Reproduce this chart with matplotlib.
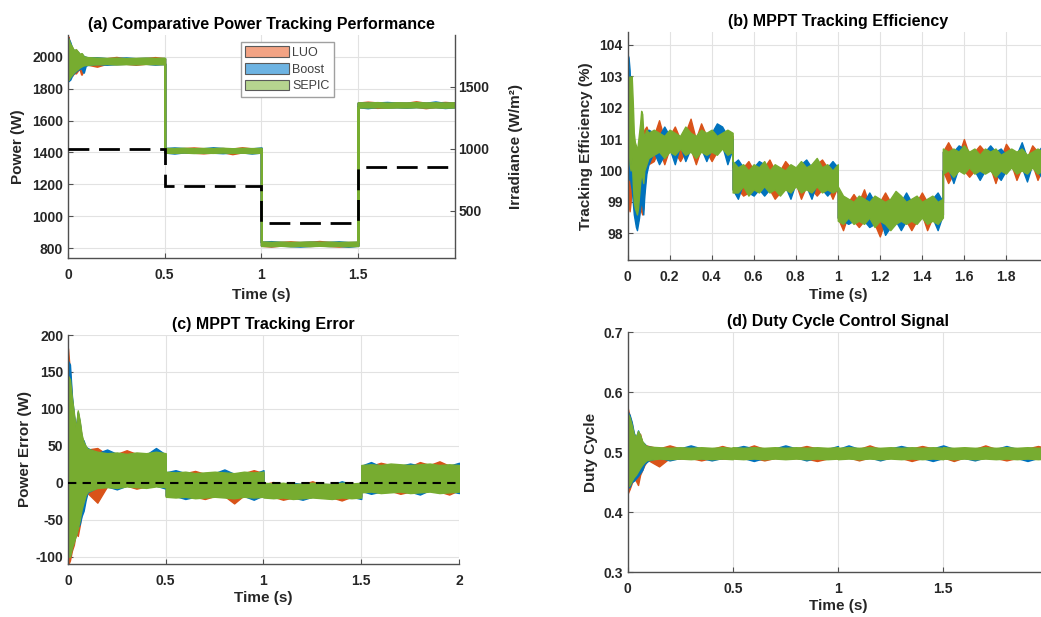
import matplotlib.pyplot as plt
from matplotlib.patches import Patch
from matplotlib.ticker import FuncFormatter

plt.rcParams['font.family'] = ['Liberation Sans', 'DejaVu Sans']

series_names = ['LUO', 'Boost', 'SEPIC']
line_colors = ['#D95319', '#0072BD', '#77AC30']
legend_faces = ['#F2A384', '#6DB3E2', '#B6D48F']

# sample times for panels (a), (c), (d): start-up transient, then one row per irradiance step
t_acd = [0, 0.01, 0.02, 0.03, 0.04, 0.05, 0.06, 0.07, 0.08, 0.09, 0.10,
         0.15, 0.20, 0.25, 0.30, 0.35, 0.40, 0.45, 0.50,
         0.50, 0.55, 0.60, 0.65, 0.70, 0.75, 0.80, 0.85, 0.90, 0.95, 1.00,
         1.00, 1.05, 1.10, 1.15, 1.20, 1.25, 1.30, 1.35, 1.40, 1.45, 1.50,
         1.50, 1.55, 1.60, 1.65, 1.70, 1.75, 1.80, 1.85, 1.90, 1.95, 2.00]

# (a) output power envelopes (W), upper / lower
luo_a_hi = [2125, 2075, 2055, 2030, 2040, 2025, 2010, 2012, 1998, 1995, 1992,
            1989, 1988, 1996, 1987, 1988, 1989, 1995, 1988,
            1424, 1423, 1425, 1429, 1424, 1423, 1425, 1422, 1430, 1423, 1424,
            838, 836, 837, 841, 836, 838, 843, 837, 835, 836, 837,
            1710, 1716, 1711, 1708, 1710, 1709, 1718, 1709, 1710, 1714, 1710]
luo_a_lo = [1850, 1880, 1882, 1900, 1898, 1915, 1930, 1890, 1945, 1950, 1953,
            1940, 1958, 1957, 1958, 1952, 1958, 1957, 1957,
            1403, 1402, 1404, 1401, 1397, 1402, 1404, 1392, 1403, 1401, 1403,
            818, 813, 819, 817, 818, 817, 819, 817, 813, 817, 818,
            1687, 1686, 1682, 1685, 1687, 1686, 1688, 1680, 1687, 1685, 1687]
boost_a_hi = [2115, 2090, 2050, 2040, 2035, 2028, 2012, 2015, 2002, 1997, 1994,
              1994, 1988, 1989, 1993, 1988, 1990, 1988, 1989,
              1425, 1429, 1425, 1422, 1424, 1430, 1425, 1422, 1424, 1423, 1429,
              838, 842, 837, 835, 836, 838, 836, 837, 841, 836, 837,
              1710, 1709, 1711, 1714, 1710, 1709, 1711, 1709, 1717, 1708, 1710]
boost_a_lo = [1848, 1858, 1885, 1900, 1910, 1920, 1925, 1935, 1902, 1945, 1950,
              1957, 1952, 1956, 1958, 1957, 1959, 1953, 1957,
              1402, 1396, 1403, 1401, 1402, 1401, 1398, 1402, 1403, 1396, 1402,
              819, 817, 819, 816, 813, 817, 819, 817, 818, 812, 818,
              1686, 1680, 1688, 1685, 1686, 1683, 1687, 1686, 1687, 1681, 1686]
sepic_a_hi = [2110, 2080, 2060, 2035, 2045, 2030, 2015, 2020, 2000, 1998, 1995,
              1992, 1990, 1991, 1989, 1990, 1992, 1990, 1991,
              1426, 1425, 1427, 1424, 1426, 1425, 1427, 1424, 1426, 1425, 1426,
              840, 838, 839, 837, 838, 840, 838, 839, 837, 838, 839,
              1712, 1711, 1713, 1710, 1712, 1711, 1713, 1711, 1712, 1710, 1712]
sepic_a_lo = [1855, 1875, 1890, 1905, 1915, 1925, 1935, 1942, 1948, 1950, 1952,
              1955, 1957, 1954, 1956, 1955, 1957, 1956, 1955,
              1401, 1400, 1402, 1399, 1401, 1400, 1402, 1400, 1401, 1399, 1401,
              817, 816, 818, 815, 817, 816, 818, 816, 817, 815, 817,
              1685, 1684, 1686, 1683, 1685, 1684, 1686, 1684, 1685, 1683, 1685]

# irradiance profile (W/m^2)
irr_edges = [0, 0.5, 1.0, 1.5, 2.0]
irr_levels = [1000, 700, 400, 850]

# (b) tracking efficiency (%), finer sampling
t_b = [0, 0.005, 0.01, 0.015, 0.02, 0.025, 0.03, 0.035, 0.04, 0.045, 0.05,
       0.055, 0.06, 0.065, 0.07, 0.075, 0.08, 0.09, 0.10,
       0.125, 0.15, 0.175, 0.2, 0.225, 0.25, 0.275, 0.3, 0.325, 0.35, 0.375,
       0.4, 0.425, 0.45, 0.475, 0.5,
       0.5, 0.525, 0.55, 0.575, 0.6, 0.625, 0.65, 0.675, 0.7, 0.725, 0.75,
       0.775, 0.8, 0.825, 0.85, 0.875, 0.9, 0.925, 0.95, 0.975, 1.0,
       1.0, 1.025, 1.05, 1.075, 1.1, 1.125, 1.15, 1.175, 1.2, 1.225, 1.25,
       1.275, 1.3, 1.325, 1.35, 1.375, 1.4, 1.425, 1.45, 1.475, 1.5,
       1.5, 1.525, 1.55, 1.575, 1.6, 1.625, 1.65, 1.675, 1.7, 1.725, 1.75,
       1.775, 1.8, 1.825, 1.85, 1.875, 1.9, 1.925, 1.95, 1.975, 2.0]
luo_b_hi = [102.5, 102.3, 101.8, 101.5, 101.2, 100.8, 100.5, 100.4, 100.2, 100.4,
            100.6, 100.8, 101.0, 100.9, 101.0, 101.1, 101.3, 101.4, 101.2,
            101.1, 101.6, 101.0, 101.1, 101.4, 101.0, 101.2, 101.65, 101.0, 101.5,
            101.1, 101.1, 101.0, 101.1, 101.2, 101.1,
            100.1, 100.0, 100.1, 100.3, 100.0, 100.0, 100.1, 100.35, 100.0, 100.0,
            100.3, 100.1, 100.0, 100.1, 100.0, 100.1, 100.2, 100.35, 100.1, 99.9, 100.1,
            99.3, 99.0, 99.0, 99.25, 99.0, 99.4, 98.9, 99.0, 99.0, 99.3,
            99.0, 99.1, 99.0, 98.9, 99.0, 99.0, 99.3, 99.0, 99.0, 98.9, 99.0,
            100.6, 100.9, 100.6, 100.5, 101.0, 100.5, 100.6, 100.8, 100.6, 100.5,
            100.6, 100.4, 100.85, 100.6, 100.5, 100.6, 100.4, 100.8, 100.6, 100.5, 100.6]
luo_b_lo = [100.0, 98.9, 98.7, 99.0, 99.6, 99.4, 98.9, 98.6, 98.5, 98.4,
            98.4, 98.6, 98.8, 98.7, 98.6, 98.8, 99.4, 100.1, 100.2,
            100.3, 100.7, 100.2, 100.7, 100.6, 100.3, 100.6, 100.7, 100.2, 100.7,
            100.6, 100.3, 100.6, 100.8, 100.6, 100.7,
            99.4, 99.4, 99.2, 99.3, 99.5, 99.4, 99.6, 99.4, 99.1, 99.3,
            99.5, 99.4, 99.6, 99.1, 99.5, 99.4, 99.2, 99.4, 99.5, 99.1, 99.5,
            98.5, 98.1, 98.6, 98.4, 98.2, 98.4, 98.6, 98.3, 97.9, 98.4,
            98.2, 98.4, 98.5, 98.4, 98.1, 98.4, 98.6, 98.1, 98.5, 98.4, 98.6,
            100.0, 99.6, 99.9, 100.1, 100.0, 99.8, 100.0, 100.1, 100.0, 100.1,
            99.6, 100.1, 100.0, 100.2, 99.7, 100.1, 100.0, 100.2, 99.7, 100.1, 100.0]
boost_b_hi = [103.7, 103.6, 103.2, 102.4, 101.8, 101.0, 100.6, 100.3, 100.2, 100.1,
              100.3, 100.6, 100.8, 100.7, 100.9, 101.0, 101.1, 101.2, 101.3,
              101.2, 101.1, 101.4, 101.1, 101.1, 101.0, 101.2, 101.1, 101.0, 101.2,
              101.1, 101.2, 101.5, 101.4, 101.1, 101.0,
              100.2, 100.35, 100.1, 99.9, 100.1, 100.3, 100.2, 99.9, 100.1, 100.0,
              99.9, 100.1, 100.0, 100.2, 100.35, 100.1, 100.2, 100.0, 100.1, 100.3, 100.1,
              99.4, 99.1, 99.0, 98.9, 99.1, 99.0, 99.3, 99.0, 99.0, 98.9,
              99.0, 99.2, 99.0, 99.3, 99.0, 99.1, 98.9, 99.0, 99.1, 99.3, 99.0,
              100.6, 100.5, 100.6, 100.8, 100.7, 100.5, 100.6, 100.4, 100.6, 100.8,
              100.6, 100.7, 100.5, 100.6, 100.5, 100.9, 100.4, 100.5, 100.6, 100.8, 100.6]
boost_b_lo = [99.8, 99.7, 99.9, 99.6, 99.4, 99.0, 98.6, 98.4, 98.2, 98.1,
              98.3, 98.5, 98.8, 99.0, 98.9, 98.6, 99.2, 99.9, 100.2,
              100.6, 100.2, 100.5, 100.7, 100.2, 100.8, 100.3, 100.7, 100.5, 100.7,
              100.3, 100.7, 100.6, 100.8, 100.2, 100.7,
              99.4, 99.1, 99.6, 99.3, 99.2, 99.4, 99.2, 99.4, 99.5, 99.3,
              99.5, 99.1, 99.6, 99.4, 99.5, 99.1, 99.6, 99.4, 99.2, 99.4, 99.5,
              98.5, 98.4, 98.3, 98.4, 98.5, 98.4, 98.2, 98.3, 98.5, 97.95,
              98.2, 98.4, 98.1, 98.4, 98.5, 98.4, 98.6, 98.4, 98.5, 98.1, 98.6,
              100.0, 100.1, 99.6, 100.1, 100.0, 100.2, 100.0, 99.7, 100.0, 100.1,
              99.9, 99.7, 100.0, 100.2, 100.0, 100.1, 99.65, 100.2, 100.0, 99.7, 100.0]
sepic_b_hi = [102.4, 102.9, 103.0, 102.8, 103.0, 102.2, 101.2, 100.9, 100.8, 100.6,
              100.9, 101.2, 101.5, 101.9, 101.8, 101.2, 101.1, 101.3, 101.2,
              101.3, 101.2, 101.1, 101.3, 101.2, 101.1, 101.4, 101.2, 101.1, 101.3,
              101.2, 101.3, 101.1, 101.2, 101.3, 101.2,
              100.3, 100.1, 100.2, 100.0, 100.2, 100.1, 100.3, 100.0, 100.2, 100.1,
              100.0, 100.2, 100.1, 100.3, 100.1, 100.2, 100.4, 100.1, 100.2, 100.0, 100.2,
              99.5, 99.2, 99.1, 99.0, 99.2, 99.1, 99.0, 99.2, 99.1, 99.0,
              99.1, 99.35, 99.2, 99.0, 99.1, 99.2, 99.0, 99.1, 99.2, 99.0, 99.1,
              100.7, 100.6, 100.7, 100.6, 100.8, 100.6, 100.7, 100.5, 100.7, 100.6,
              100.7, 100.5, 100.6, 100.7, 100.6, 100.7, 100.5, 100.6, 100.7, 100.6, 100.7]
sepic_b_lo = [100.3, 100.8, 100.2, 100.0, 100.4, 99.6, 99.0, 98.8, 98.7, 98.6,
              98.8, 99.2, 99.6, 99.9, 99.8, 99.6, 100.0, 100.2, 100.4,
              100.5, 100.6, 100.4, 100.6, 100.5, 100.7, 100.5, 100.6, 100.4, 100.6,
              100.5, 100.6, 100.5, 100.7, 100.5, 100.6,
              99.3, 99.3, 99.5, 99.2, 99.4, 99.3, 99.5, 99.3, 99.4, 99.2,
              99.4, 99.3, 99.5, 99.3, 99.4, 99.3, 99.5, 99.3, 99.4, 99.3, 99.4,
              98.4, 98.3, 98.5, 98.3, 98.4, 98.3, 98.5, 98.2, 98.4, 98.3,
              98.1, 98.3, 98.4, 98.3, 98.4, 98.3, 98.5, 98.3, 98.4, 98.3, 98.5,
              99.9, 100.0, 99.8, 100.0, 99.9, 100.1, 99.9, 100.0, 99.9, 100.0,
              99.8, 100.0, 99.9, 100.1, 99.9, 100.0, 99.9, 100.1, 99.9, 100.0, 99.9]

# (c) power tracking error (W)
err_ref = 0
luo_c_hi = [182, 150, 112, 90, 70, 95, 80, 62, 53, 48, 45,
            47, 38, 39, 44, 39, 38, 40, 38,
            13, 12, 13, 16, 12, 13, 12, 11, 13, 17, 13,
            -2, 1, -2, -3, -2, 2, -3, -3, -2, -2, -2,
            22, 23, 27, 24, 23, 22, 28, 24, 29, 23, 22]
luo_c_lo = [-112, -105, -92, -84, -68, -72, -58, -40, -30, -20, -14,
            -27, -5, -6, -4, -8, -5, -4, -5,
            -18, -18, -17, -19, -22, -18, -18, -28, -17, -18, -17,
            -19, -19, -23, -20, -19, -18, -19, -20, -24, -19, -18,
            -12, -11, -12, -11, -15, -12, -11, -10, -12, -16, -10]
boost_c_hi = [165, 160, 118, 92, 74, 96, 82, 60, 57, 49, 47,
              40, 45, 39, 37, 39, 38, 47, 38,
              14, 17, 13, 12, 13, 13, 18, 12, 13, 12, 17,
              -1, -2, -1, 0, -2, -1, -2, -3, 2, -2, -1,
              23, 28, 22, 24, 23, 26, 23, 24, 22, 23, 27]
boost_c_lo = [-95, -98, -86, -78, -70, -60, -56, -45, -38, -24, -13,
              -6, -5, -9, -4, -5, -6, -4, -8,
              -17, -18, -22, -19, -18, -17, -18, -19, -18, -23, -17,
              -18, -19, -18, -20, -23, -19, -19, -20, -18, -19, -22,
              -11, -15, -12, -11, -10, -12, -16, -10, -12, -11, -14]
sepic_c_hi = [145, 140, 115, 95, 72, 98, 84, 65, 55, 50, 46,
              42, 40, 41, 39, 41, 40, 42, 40,
              15, 14, 15, 13, 14, 15, 14, 13, 15, 14, 15,
              0, -1, 0, -2, -1, 0, -1, -2, 0, -1, 0,
              24, 25, 24, 26, 25, 24, 25, 26, 24, 25, 24]
sepic_c_lo = [-100, -100, -88, -80, -72, -62, -50, -36, -26, -17, -12,
              -7, -6, -7, -5, -6, -7, -5, -6,
              -19, -20, -19, -21, -20, -19, -20, -21, -19, -20, -19,
              -20, -21, -20, -22, -21, -20, -21, -22, -20, -21, -20,
              -13, -12, -14, -13, -12, -14, -13, -12, -14, -13, -12]

# (d) duty cycle
luo_d_hi = [.575, .560, .548, .528, .522, .532, .530, .515, .512, .511, .510,
            .506, .511, .506, .505, .506, .505, .510, .505,
            .506, .505, .511, .505, .506, .505, .506, .510, .506, .505, .506,
            .505, .506, .505, .511, .505, .506, .505, .506, .510, .506, .505,
            .506, .505, .506, .505, .511, .505, .506, .505, .506, .510, .506]
luo_d_lo = [.430, .438, .448, .455, .452, .445, .462, .470, .478, .484, .486,
            .476, .490, .489, .490, .486, .490, .489, .490,
            .490, .489, .490, .486, .490, .489, .490, .489, .485, .489, .490,
            .490, .491, .486, .491, .490, .491, .490, .485, .490, .491, .490,
            .491, .485, .491, .490, .491, .490, .486, .490, .491, .490, .491]
boost_d_hi = [.568, .562, .550, .532, .524, .536, .526, .517, .514, .510, .509,
              .506, .505, .506, .511, .506, .505, .506, .505,
              .506, .510, .506, .505, .506, .511, .506, .505, .506, .505, .510,
              .505, .511, .505, .506, .505, .506, .510, .506, .505, .506, .511,
              .511, .505, .506, .505, .506, .505, .510, .505, .506, .505, .506]
boost_d_lo = [.440, .442, .450, .452, .456, .460, .465, .470, .480, .483, .486,
              .491, .486, .490, .491, .490, .486, .490, .491,
              .491, .490, .485, .490, .491, .490, .491, .486, .491, .490, .491,
              .490, .491, .490, .491, .486, .491, .490, .491, .490, .485, .490,
              .490, .491, .490, .486, .491, .490, .491, .490, .485, .490, .491]
sepic_d_hi = [.565, .558, .545, .530, .525, .535, .528, .518, .513, .510, .509,
              .508, .507, .508, .507, .508, .507, .508, .507,
              .508, .507, .508, .507, .508, .507, .508, .507, .508, .507, .508,
              .507, .508, .507, .508, .507, .508, .507, .508, .507, .508, .507,
              .508, .507, .508, .507, .508, .507, .508, .507, .508, .507, .508]
sepic_d_lo = [.442, .445, .452, .458, .462, .468, .474, .479, .483, .486, .487,
              .489, .488, .489, .488, .489, .488, .489, .488,
              .489, .488, .489, .488, .489, .488, .489, .488, .489, .488, .489,
              .488, .489, .488, .489, .488, .489, .488, .489, .488, .489, .488,
              .489, .488, .489, .488, .489, .488, .489, .488, .489, .488, .489]

TEXT = '#262626'
AXIS = '#505050'
GRID = '#e2e2e2'
fmt = FuncFormatter(lambda v, _: f'{v:g}')


def band(ax, t, lo, hi, color, lw):
    ax.fill_between(t, lo, hi, facecolor=color, edgecolor=color, linewidth=lw, zorder=2)


def style(ax, title, ylabel, ylab_x, xlab_y):
    ax.set_title(title, fontsize=11.5, fontweight='bold', pad=4.5, color='black')
    ax.grid(True, color=GRID, linewidth=0.8)
    ax.set_axisbelow(True)
    for s in ('top', 'right'):
        ax.spines[s].set_visible(False)
    for s in ('left', 'bottom'):
        ax.spines[s].set_color(AXIS)
        ax.spines[s].set_linewidth(1.0)
    ax.tick_params(direction='in', length=3.5, width=0.8, color=AXIS,
                   labelcolor=TEXT, labelsize=10)
    ax.tick_params(axis='x', pad=7)
    ax.tick_params(axis='y', pad=3.5)
    for lab in ax.get_xticklabels() + ax.get_yticklabels():
        lab.set_fontweight('bold')
    ax.xaxis.set_major_formatter(fmt)
    ax.yaxis.set_major_formatter(fmt)
    ax.set_xlabel('Time (s)', fontsize=11, fontweight='bold', color=TEXT)
    ax.set_ylabel(ylabel, fontsize=11, fontweight='bold', color=TEXT)
    ax.xaxis.set_label_coords(0.5, xlab_y)
    ax.yaxis.set_label_coords(ylab_x, 0.5)


fig = plt.figure(figsize=(10.41, 6.17), dpi=100)
fig.patch.set_facecolor('white')

# axes placed in pixel terms; the right-hand column runs past the figure edge
ax_a = fig.add_axes([0.06532, 0.58185, 0.37147, 0.36143])
ax_b = fig.add_axes([0.60279, 0.57861, 0.40394, 0.36953])
ax_c = fig.add_axes([0.06532, 0.08590, 0.37560, 0.37115])
ax_d = fig.add_axes([0.60279, 0.07293, 0.40442, 0.38898])

# (a) power with irradiance on a second axis
a_bands = [(luo_a_lo, luo_a_hi), (boost_a_lo, boost_a_hi), (sepic_a_lo, sepic_a_hi)]
for (lo, hi), c in zip(a_bands, line_colors):
    band(ax_a, t_acd, lo, hi, c, 1.6)
ax_a.set_xlim(0, 2)
ax_a.set_ylim(739, 2136)
ax_a.set_xticks([0, 0.5, 1, 1.5])
ax_a.set_yticks([800, 1000, 1200, 1400, 1600, 1800, 2000])
style(ax_a, '(a) Comparative Power Tracking Performance', 'Power (W)', -0.111, -0.135)

ax_a2 = ax_a.twinx()
ax_a2.stairs(irr_levels, irr_edges, baseline=None, color='black',
             linewidth=2.0, linestyle=(0, (7.5, 3.5)), zorder=3)
ax_a2.set_ylim(119, 1917)
ax_a2.set_yticks([500, 1000, 1500])
for s in ('top', 'left', 'bottom'):
    ax_a2.spines[s].set_visible(False)
ax_a2.spines['right'].set_color(AXIS)
ax_a2.spines['right'].set_linewidth(1.0)
ax_a2.tick_params(direction='in', length=3.5, width=0.8, color=AXIS,
                  labelcolor=TEXT, labelsize=10, pad=2.5)
for lab in ax_a2.get_yticklabels():
    lab.set_fontweight('bold')
ax_a2.set_ylabel('Irradiance (W/m²)', fontsize=11, fontweight='bold', color=TEXT)
ax_a2.yaxis.set_label_coords(1.14, 0.5)

handles = [Patch(facecolor=f, edgecolor='#5a5a5a', linewidth=0.8) for f in legend_faces]
ax_a2.legend(handles, series_names, loc='upper left', bbox_to_anchor=(0.447, 0.969),
             borderaxespad=0, fancybox=False, framealpha=1, edgecolor='#a0a0a0',
             prop={'size': 9, 'weight': 'normal'}, labelcolor='#404040',
             handlelength=3.5, handleheight=0.95, labelspacing=0.32,
             handletextpad=0.25, borderpad=0.35)

# (b) tracking efficiency
b_bands = [(luo_b_lo, luo_b_hi), (boost_b_lo, boost_b_hi), (sepic_b_lo, sepic_b_hi)]
for (lo, hi), c in zip(b_bands, line_colors):
    band(ax_b, t_b, lo, hi, c, 1.0)
ax_b.set_xlim(0, 2)
ax_b.set_ylim(97.15, 104.41)
ax_b.set_xticks([0, 0.2, 0.4, 0.6, 0.8, 1.0, 1.2, 1.4, 1.6, 1.8])
ax_b.set_yticks([98, 99, 100, 101, 102, 103, 104])
style(ax_b, '(b) MPPT Tracking Efficiency', 'Tracking Efficiency (%)', -0.082, -0.123)

# (c) tracking error
c_bands = [(luo_c_lo, luo_c_hi), (boost_c_lo, boost_c_hi), (sepic_c_lo, sepic_c_hi)]
for (lo, hi), c in zip(c_bands, line_colors):
    band(ax_c, t_acd, lo, hi, c, 1.0)
ax_c.axhline(err_ref, color='black', linewidth=1.5, linestyle=(0, (4, 3)), zorder=3)
ax_c.set_xlim(0, 2)
ax_c.set_ylim(-110, 200)
ax_c.set_xticks([0, 0.5, 1, 1.5, 2])
ax_c.set_yticks([-100, -50, 0, 50, 100, 150, 200])
style(ax_c, '(c) MPPT Tracking Error', 'Power Error (W)', -0.092, -0.118)

# (d) duty cycle
d_bands = [(luo_d_lo, luo_d_hi), (boost_d_lo, boost_d_hi), (sepic_d_lo, sepic_d_hi)]
for (lo, hi), c in zip(d_bands, line_colors):
    band(ax_d, t_acd, lo, hi, c, 1.0)
ax_d.set_xlim(0, 2)
ax_d.set_ylim(0.3, 0.7)
ax_d.set_xticks([0, 0.5, 1, 1.5])
ax_d.set_yticks([0.3, 0.4, 0.5, 0.6, 0.7])
style(ax_d, '(d) Duty Cycle Control Signal', 'Duty Cycle', -0.070, -0.1125)

fig.savefig('out.png', dpi=100, facecolor='white')
